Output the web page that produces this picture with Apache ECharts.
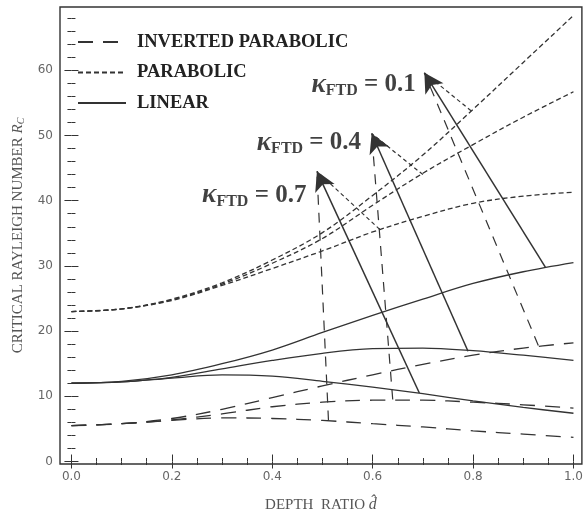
<!DOCTYPE html>
<html>
<head>
<meta charset="utf-8">
<script src="https://cdn.jsdelivr.net/npm/echarts@6/dist/echarts.min.js"></script>
<style>
  html, body { margin: 0; padding: 0; background: #fff; }
  #chart { width: 586px; height: 518px; }
</style>
</head>
<body>
<div id="chart"></div>
<script>
// depth ratio samples
const XS = [0, 0.1, 0.2, 0.3, 0.4, 0.5, 0.6, 0.7, 0.8, 0.9, 1.0];

// critical Rayleigh number, one array per profile and kappa
const LINEAR_K01 = [12, 12.3, 13.3, 15.0, 17.1, 19.8, 22.4, 24.9, 27.3, 29.1, 30.5];
const LINEAR_K04 = [12, 12.2, 12.9, 14.2, 15.5, 16.6, 17.3, 17.4, 17.0, 16.3, 15.5];
const LINEAR_K07 = [12, 12.2, 12.8, 13.3, 13.1, 12.3, 11.4, 10.4, 9.3, 8.3, 7.4];

const PARAB_K01 = [23, 23.4, 24.9, 27.4, 30.9, 35.1, 40.8, 47.0, 54.0, 61.2, 68.4];
const PARAB_K04 = [23, 23.4, 24.8, 27.2, 30.4, 34.2, 39.3, 44.2, 48.6, 52.8, 56.7];
const PARAB_K07 = [23, 23.4, 24.7, 27.0, 29.6, 32.3, 35.2, 37.6, 39.6, 40.7, 41.3];

const INV_K01 = [5.5, 5.8, 6.6, 8.0, 9.8, 11.6, 13.3, 14.9, 16.3, 17.4, 18.2];
const INV_K04 = [5.5, 5.8, 6.4, 7.3, 8.4, 9.1, 9.4, 9.4, 9.1, 8.7, 8.2];
const INV_K07 = [5.5, 5.8, 6.3, 6.7, 6.6, 6.3, 5.8, 5.3, 4.7, 4.2, 3.7];

// annotation arrows: kappa = 0.1, 0.4, 0.7
const KAPPA = ['0.1', '0.4', '0.7'];
const TIPS = [[0.703, 59.6], [0.598, 50.3], [0.489, 44.5]];
const FROM_LINEAR = [[0.944, 29.8], [0.79, 16.9], [0.693, 10.5]];
const FROM_INV = [[0.93, 17.8], [0.64, 9.5], [0.512, 6.3]];
const FROM_PARAB = [[0.796, 53.8], [0.70, 44.0], [0.614, 35.6]];
const LABEL_AT = [[0.686, 57.8], [0.577, 48.9], [0.468, 40.8]];

// ticks
const X_MAJOR = [0, 0.2, 0.4, 0.6, 0.8, 1.0];
const X_MINOR = [0.05, 0.1, 0.15, 0.25, 0.3, 0.35, 0.45, 0.5, 0.55, 0.65, 0.7, 0.75, 0.85, 0.9, 0.95];
const Y_MAJOR = [0, 10, 20, 30, 40, 50, 60];
const Y_MINOR = [2, 4, 6, 8, 12, 14, 16, 18, 22, 24, 26, 28, 32, 34, 36, 38, 42, 44, 46, 48, 52, 54, 56, 58, 62, 64, 66, 68];

const X_MIN = -0.0228, X_MAX = 1.0168;
const Y_MIN = -0.38, Y_MAX = 69.7;

const INK = '#333';
const SERIF = 'Liberation Serif';

const LONG_DASH = [15, 10];
const SHORT_DASH = [5, 3];

function pairs(ys) {
    return XS.map((x, i) => [x, ys[i]]);
}

function curve(name, ys, dash) {
    return {
        type: 'line',
        name: name,
        data: pairs(ys),
        smooth: 0.35,
        symbol: 'none',
        silent: true,
        lineStyle: { color: INK, width: 1.3, type: dash },
        itemStyle: { color: INK }
    };
}

function xAxisOf(pos, values, len, withLabels) {
    return {
        type: 'value', min: X_MIN, max: X_MAX, position: pos,
        axisLine: { show: false },
        splitLine: { show: false },
        axisTick: { inside: true, length: len, customValues: values, lineStyle: { color: INK, width: 1 } },
        axisLabel: withLabels ? {
            customValues: values, margin: 7,
            formatter: v => v.toFixed(1),
            fontFamily: 'DejaVu Sans', fontSize: 12, color: '#666'
        } : { show: false }
    };
}

function yAxisOf(pos, values, len, withLabels) {
    return {
        type: 'value', min: Y_MIN, max: Y_MAX, position: pos,
        axisLine: { show: false },
        splitLine: { show: false },
        axisTick: { inside: true, length: len, customValues: values, lineStyle: { color: INK, width: 1 } },
        axisLabel: withLabels ? {
            customValues: values, margin: 7,
            fontFamily: 'DejaVu Sans', fontSize: 12, color: '#666'
        } : { show: false }
    };
}

const xAxes = [
    xAxisOf('bottom', X_MAJOR, 7, true),
    xAxisOf('bottom', X_MINOR, 3.5, false),
    xAxisOf('top', X_MAJOR, 7, false),
    xAxisOf('top', X_MINOR, 3.5, false)
];
Object.assign(xAxes[0], {
    name: '{n|DEPTH  RATIO }{d|d\u0302}',
    nameLocation: 'middle',
    nameGap: 33,
    nameTextStyle: {
        rich: {
            n: { fontFamily: SERIF, fontSize: 15, color: '#555' },
            d: { fontFamily: SERIF, fontStyle: 'italic', fontSize: 16, color: '#555' }
        }
    }
});

const yAxes = [
    yAxisOf('left', Y_MAJOR, 7, true),
    yAxisOf('left', Y_MINOR, 4, false),
    yAxisOf('right', Y_MAJOR, 7, false),
    yAxisOf('right', Y_MINOR, 4, false)
];
Object.assign(yAxes[0], {
    name: '{n|CRITICAL RAYLEIGH NUMBER }{r|R}{c|C}',
    nameLocation: 'middle',
    nameGap: 34,
    nameRotate: 90,
    nameTextStyle: {
        rich: {
            n: { fontFamily: SERIF, fontSize: 15, color: '#555' },
            r: { fontFamily: SERIF, fontStyle: 'italic', fontSize: 15, color: '#555' },
            c: { fontFamily: SERIF, fontStyle: 'italic', fontSize: 10, color: '#555', verticalAlign: 'bottom', lineHeight: 11 }
        }
    }
});

const series = [
    curve('INVERTED PARABOLIC', INV_K01, LONG_DASH),
    curve('INVERTED PARABOLIC', INV_K04, LONG_DASH),
    curve('INVERTED PARABOLIC', INV_K07, LONG_DASH),
    curve('PARABOLIC', PARAB_K01, SHORT_DASH),
    curve('PARABOLIC', PARAB_K04, SHORT_DASH),
    curve('PARABOLIC', PARAB_K07, SHORT_DASH),
    curve('LINEAR', LINEAR_K01, 'solid'),
    curve('LINEAR', LINEAR_K04, 'solid'),
    curve('LINEAR', LINEAR_K07, 'solid')
];

function connectors(from, dash, width, withArrow) {
    return {
        type: 'line',
        name: 'connector',
        data: [],
        silent: true,
        markLine: {
            silent: true,
            animation: false,
            symbol: withArrow ? ['none', 'arrow'] : ['none', 'none'],
            symbolSize: [16, 19],
            label: { show: false },
            emphasis: { disabled: true },
            lineStyle: { color: INK, width: width, type: dash },
            itemStyle: { color: '#111' },
            data: from.map((p, i) => [{ coord: p }, { coord: TIPS[i] }])
        }
    };
}

series.push(connectors(FROM_INV, [10, 8], 1.2, false));
series.push(connectors(FROM_PARAB, [4, 3], 1.2, false));
series.push(connectors(FROM_LINEAR, 'solid', 1.5, true));

series.push({
    type: 'scatter',
    name: 'labels',
    silent: true,
    symbolSize: 0,
    data: LABEL_AT.map((p, i) => ({ value: p, name: KAPPA[i] })),
    label: {
        show: true,
        position: 'left',
        distance: 0,
        formatter: p => '{k|\u03ba}{s|FTD}{n| = ' + p.name + '}',
        rich: {
            k: { fontFamily: SERIF, fontStyle: 'italic', fontWeight: 'bold', fontSize: 27, color: '#111', lineHeight: 28 },
            s: { fontFamily: SERIF, fontWeight: 'bold', fontSize: 16, color: '#111', lineHeight: 13, verticalAlign: 'bottom' },
            n: { fontFamily: SERIF, fontWeight: 'bold', fontSize: 25, color: '#111', lineHeight: 28 }
        }
    }
});

const chart = echarts.init(document.getElementById('chart'));
chart.setOption({
    animation: false,
    backgroundColor: '#fff',
    grid: {
        left: 60, right: 1, top: 7, bottom: 52.5,
        show: true, borderColor: INK, borderWidth: 1.4, backgroundColor: 'transparent'
    },
    legend: {
        data: ['INVERTED PARABOLIC', 'PARABOLIC', 'LINEAR'],
        orient: 'vertical',
        left: 77, top: 32,
        padding: 0,
        itemWidth: 48, itemHeight: 14, itemGap: 10.5,
        selectedMode: false,
        itemStyle: { opacity: 0 },
        textStyle: { fontFamily: SERIF, fontWeight: 'bold', fontSize: 18.5, lineHeight: 20, color: '#222', padding: [0, 0, 0, 6] }
    },
    xAxis: xAxes,
    yAxis: yAxes,
    series: series
});
</script>
</body>
</html>
